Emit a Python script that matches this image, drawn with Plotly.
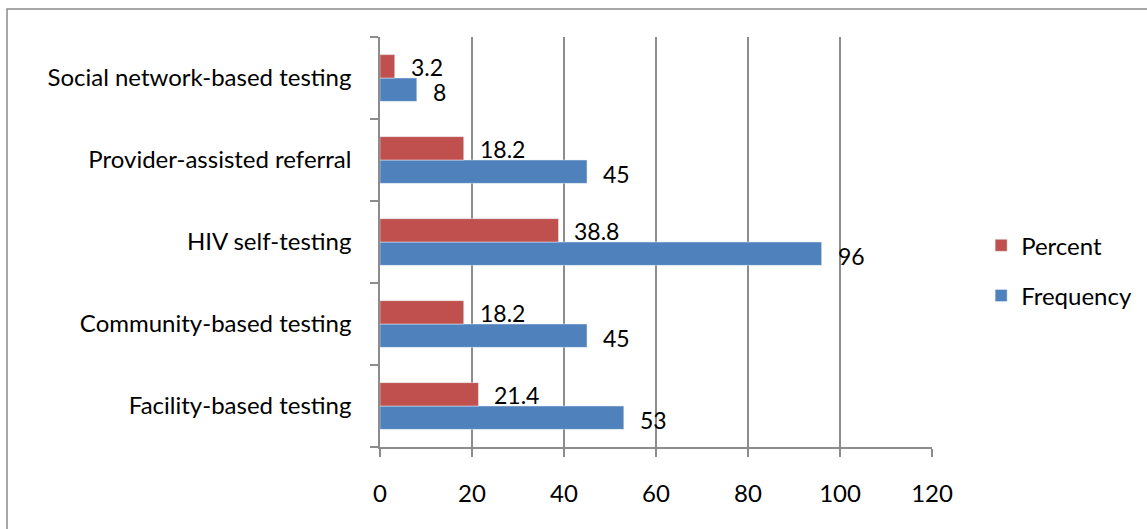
import plotly.graph_objects as go

categories = ["Facility-based testing", "Community-based testing", "HIV self-testing",
              "Provider-assisted referral", "Social network-based testing"]
frequency = [53, 45, 96, 45, 8]
percent = [21.4, 18.2, 38.8, 18.2, 3.2]
freq_labels = ["53", "45", "96", "45", "8"]
pct_labels = ["21.4", "18.2", "38.8", "18.2", "3.2"]
x_ticks = [0, 20, 40, 60, 80, 100, 120]

RED = "#C0504D"
BLUE = "#4F81BD"
FONT = "Lato, 'Noto Sans', sans-serif"
FS = 24

fig = go.Figure()
fig.add_trace(go.Bar(y=categories, x=frequency, orientation="h", name="Frequency",
                     marker=dict(color=BLUE), legendgroup="f", legendrank=2))
fig.add_trace(go.Bar(y=categories, x=percent, orientation="h", name="Percent",
                     marker=dict(color=RED), legendgroup="p", legendrank=1))

annotations = []
for c, v, t in zip(categories, frequency, freq_labels):
    annotations.append(dict(x=v, y=c, text=t, showarrow=False, xanchor="left", yanchor="middle",
                            xshift=14, yshift=-14, font=dict(size=23, color="black", family=FONT)))
for c, v, t in zip(categories, percent, pct_labels):
    annotations.append(dict(x=v, y=c, text=t, showarrow=False, xanchor="left", yanchor="middle",
                            xshift=14, yshift=11, font=dict(size=23, color="black", family=FONT)))

fig.update_layout(
    width=1147, height=529,
    margin=dict(l=380, r=215, t=37, b=82, autoexpand=False),
    paper_bgcolor="white", plot_bgcolor="white",
    barmode="group", bargap=0.43, bargroupgap=0,
    font=dict(family=FONT, size=FS, color="black"),
    annotations=annotations,
    legend=dict(x=1.089, y=0.43, xanchor="left", yanchor="middle",
                traceorder="grouped", tracegroupgap=16,
                font=dict(size=FS, family=FONT), itemwidth=30),
    showlegend=True,
    xaxis=dict(range=[0, 120], tickvals=x_ticks, showgrid=True, gridcolor="#8C8C8C", gridwidth=1.5,
               showline=True, linecolor="#8C8C8C", linewidth=1.5, ticks="outside", ticklen=8,
               tickcolor="#8C8C8C", tickwidth=1.5, zeroline=False, ticklabelstandoff=16,
               tickfont=dict(size=FS, family=FONT)),
    yaxis=dict(showline=True, linecolor="#8C8C8C", linewidth=1.5, ticks="outside", ticklen=8,
               tickcolor="#8C8C8C", tickwidth=1.5, tickson="boundaries", showgrid=False,
               ticklabelstandoff=22, tickfont=dict(size=FS, family=FONT)),
    shapes=[dict(type="rect", xref="paper", yref="paper", x0=-0.6757, x1=1.40, y0=-0.22, y1=1.0683,
                 line=dict(color="#8C8C8C", width=1.5), fillcolor="rgba(0,0,0,0)", layer="below")],
)

fig.write_html("out.html")
